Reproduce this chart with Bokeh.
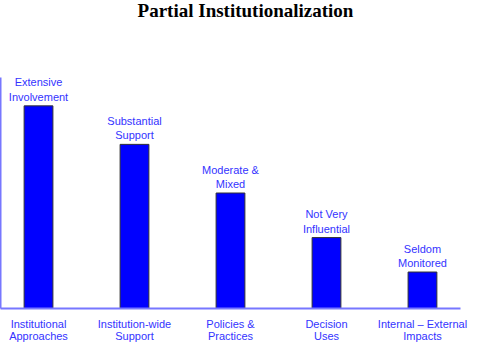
from bokeh.plotting import figure
from bokeh.models import ColumnDataSource, FactorRange, Range1d, FixedTicker, Label
from bokeh.core.properties import value
from bokeh.embed import file_html
from bokeh.resources import INLINE

title_text = "Partial Institutionalization"
categories = ["Institutional\nApproaches", "Institution-wide\nSupport", "Policies &\nPractices",
              "Decision\nUses", "Internal \u2013 External\nImpacts"]
levels = [100, 81, 57, 35, 18]
level_labels = ["Extensive\nInvolvement", "Substantial\nSupport", "Moderate &\nMixed",
                "Not Very\nInfluential", "Seldom\nMonitored"]

src = ColumnDataSource(dict(cat=categories, val=levels, lab=level_labels))

p = figure(width=468, height=344, output_backend="svg", toolbar_location=None,
           x_range=FactorRange(*categories, range_padding=-0.104, range_padding_units="absolute"),
           y_range=Range1d(0, 152.0),
           min_border_left=0, min_border_right=8, min_border_top=0, min_border_bottom=0)
p.outline_line_color = None
p.grid.grid_line_color = None
p.background_fill_color = "white"
p.border_fill_color = "white"

p.add_layout(Label(x=245, y=147, x_units="screen", y_units="data", text=title_text,
                   text_align="center", text_baseline="middle",
                   text_font="Liberation Serif", text_font_size="19px",
                   text_font_style="bold", text_color="black"))

p.vbar(x="cat", top="val", bottom=0, width=0.3, source=src,
       fill_color="#0000ff", line_color="#333333", line_width=1)
p.text(x="cat", y="val", text="lab", source=src, y_offset=-3,
       text_align="center", text_baseline="bottom",
       text_font=value("Liberation Sans"), text_font_size="11px",
       text_color="#3333ff", text_line_height=1.2)

p.xaxis.axis_line_color = "#7777ff"
p.xaxis.axis_line_width = 2
p.xaxis.major_tick_line_color = None
p.xaxis.minor_tick_line_color = None
p.xaxis.major_label_text_color = "#3333ff"
p.xaxis.major_label_text_font = "Liberation Sans"
p.xaxis.major_label_text_font_size = "11px"
p.xaxis.major_label_text_line_height = 1.0
p.xaxis.major_label_standoff = 3

p.yaxis.ticker = FixedTicker(ticks=[])
p.yaxis.bounds = (0, 114)
p.yaxis.axis_line_color = "#7777ff"
p.yaxis.axis_line_width = 2
p.yaxis.major_tick_line_color = None
p.yaxis.minor_tick_line_color = None

open("out.html", "w").write(file_html(p, INLINE))
